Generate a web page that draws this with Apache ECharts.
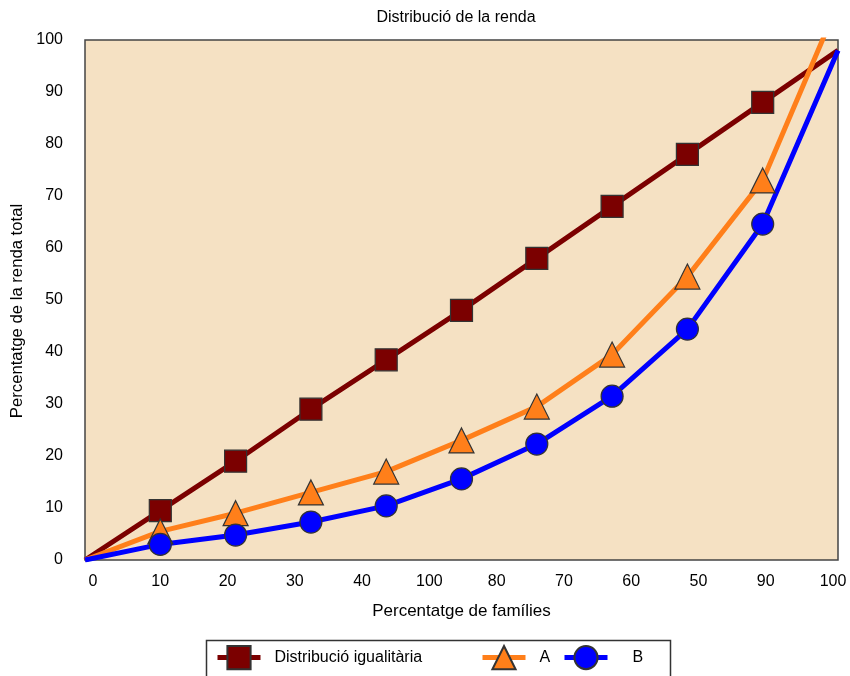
<!DOCTYPE html>
<html><head><meta charset="utf-8">
<script src="https://cdn.jsdelivr.net/npm/echarts@6/dist/echarts.min.js"></script>
<style>html,body{margin:0;padding:0;background:#fff}#c{width:850px;height:676px}</style>
</head><body><div id="c"></div>
<script>
var xValues = [0, 10, 20, 30, 40, 50, 60, 70, 80, 90, 100];
var equalDist = [0, 9.5, 19, 29, 38.5, 48, 58, 68, 78, 88, 98];
var seriesA = [0, 5.5, 9, 13, 17, 23, 29.5, 39.5, 54.5, 73, 107];
var seriesB = [0, 3, 4.8, 7.3, 10.4, 15.6, 22.3, 31.5, 44.4, 64.6, 98];
var xTickLabels = ['0', '10', '20', '30', '40', '100', '80', '70', '60', '50', '90', '100'];
var seriesNames = ['Distribució igualitària', 'A', 'B'];

function pts(arr) {
  return arr.map(function (v, i) {
    var d = { value: [xValues[i], v] };
    if (i === 0 || i === arr.length - 1) d.symbol = 'none';
    return d;
  });
}
var font = 'Liberation Sans, Arial, sans-serif';
var chart = echarts.init(document.getElementById('c'), null, { renderer: 'canvas' });
function leg(left, name, padLeft) {
  return {
    top: 645, left: left, padding: 0, itemWidth: 43, itemHeight: 29, itemGap: 0,
    data: [name],
    lineStyle: { width: 5 },
    textStyle: { fontFamily: font, fontSize: 16, color: '#000', padding: [2, 0, 0, padLeft] }
  };
}
chart.setOption({
  animation: false,
  title: {
    text: 'Distribució de la renda', left: 451, textAlign: 'center', top: 5,
    textStyle: { fontFamily: font, fontSize: 16, fontWeight: 'normal', color: '#000' }
  },
  legend: [
    leg(215, seriesNames[0], 9),
    leg(480, seriesNames[1], 9),
    leg(562, seriesNames[2], 20)
  ],
  graphic: [{
    type: 'rect', left: 204, top: 638, shape: { width: 464, height: 42 },
    style: { fill: 'none', stroke: '#333', lineWidth: 1.5 }, z: 100
  }],
  grid: [
    { left: 85, right: 12, top: 40, bottom: 116, show: true, backgroundColor: '#F5E1C3', borderColor: '#444', borderWidth: 1.5 },
    { left: 93, right: 17, top: 40, bottom: 116 }
  ],
  xAxis: [
    {
      type: 'value', gridIndex: 0, min: 0, max: 100, interval: 10,
      axisLine: { show: false }, axisTick: { show: false }, axisLabel: { show: false }, splitLine: { show: false },
      name: 'Percentatge de famílies', nameLocation: 'middle', nameGap: 43,
      nameTextStyle: { fontFamily: font, fontSize: 17, color: '#000' }
    },
    {
      type: 'category', gridIndex: 1, data: xTickLabels, boundaryGap: false,
      axisLine: { show: false }, axisTick: { show: false }, splitLine: { show: false },
      axisLabel: { fontFamily: font, fontSize: 16, color: '#000', margin: 14, interval: 0 }
    }
  ],
  yAxis: [
    {
      type: 'value', gridIndex: 0, min: 0, max: 100, interval: 10,
      axisLine: { show: false }, axisTick: { show: false }, splitLine: { show: false },
      axisLabel: { fontFamily: font, fontSize: 16, color: '#000', margin: 22 },
      name: 'Percentatge de la renda total', nameLocation: 'middle', nameGap: 56,
      nameTextStyle: { fontFamily: font, fontSize: 16.7, color: '#000', padding: [0, 22, 0, 0] }
    },
    { type: 'value', gridIndex: 1, show: false, min: 0, max: 100 }
  ],
  series: [
    {
      name: seriesNames[0], type: 'line', xAxisIndex: 0, yAxisIndex: 0, data: pts(equalDist),
      symbol: 'rect', symbolSize: 22, clip: true,
      lineStyle: { color: '#7B0000', width: 5 },
      itemStyle: { color: '#7B0000', borderColor: '#333', borderWidth: 1.2 }
    },
    {
      name: seriesNames[1], type: 'line', xAxisIndex: 0, yAxisIndex: 0, data: pts(seriesA),
      symbol: 'triangle', symbolSize: 25, clip: true,
      lineStyle: { color: '#FF7F1A', width: 5 },
      itemStyle: { color: '#FF7F1A', borderColor: '#333', borderWidth: 1.2 }
    },
    {
      name: seriesNames[2], type: 'line', xAxisIndex: 0, yAxisIndex: 0, data: pts(seriesB),
      symbol: 'circle', symbolSize: 22, clip: true,
      lineStyle: { color: '#0000FF', width: 5 },
      itemStyle: { color: '#0000FF', borderColor: '#333', borderWidth: 1.2 }
    }
  ]
});
</script></body></html>
